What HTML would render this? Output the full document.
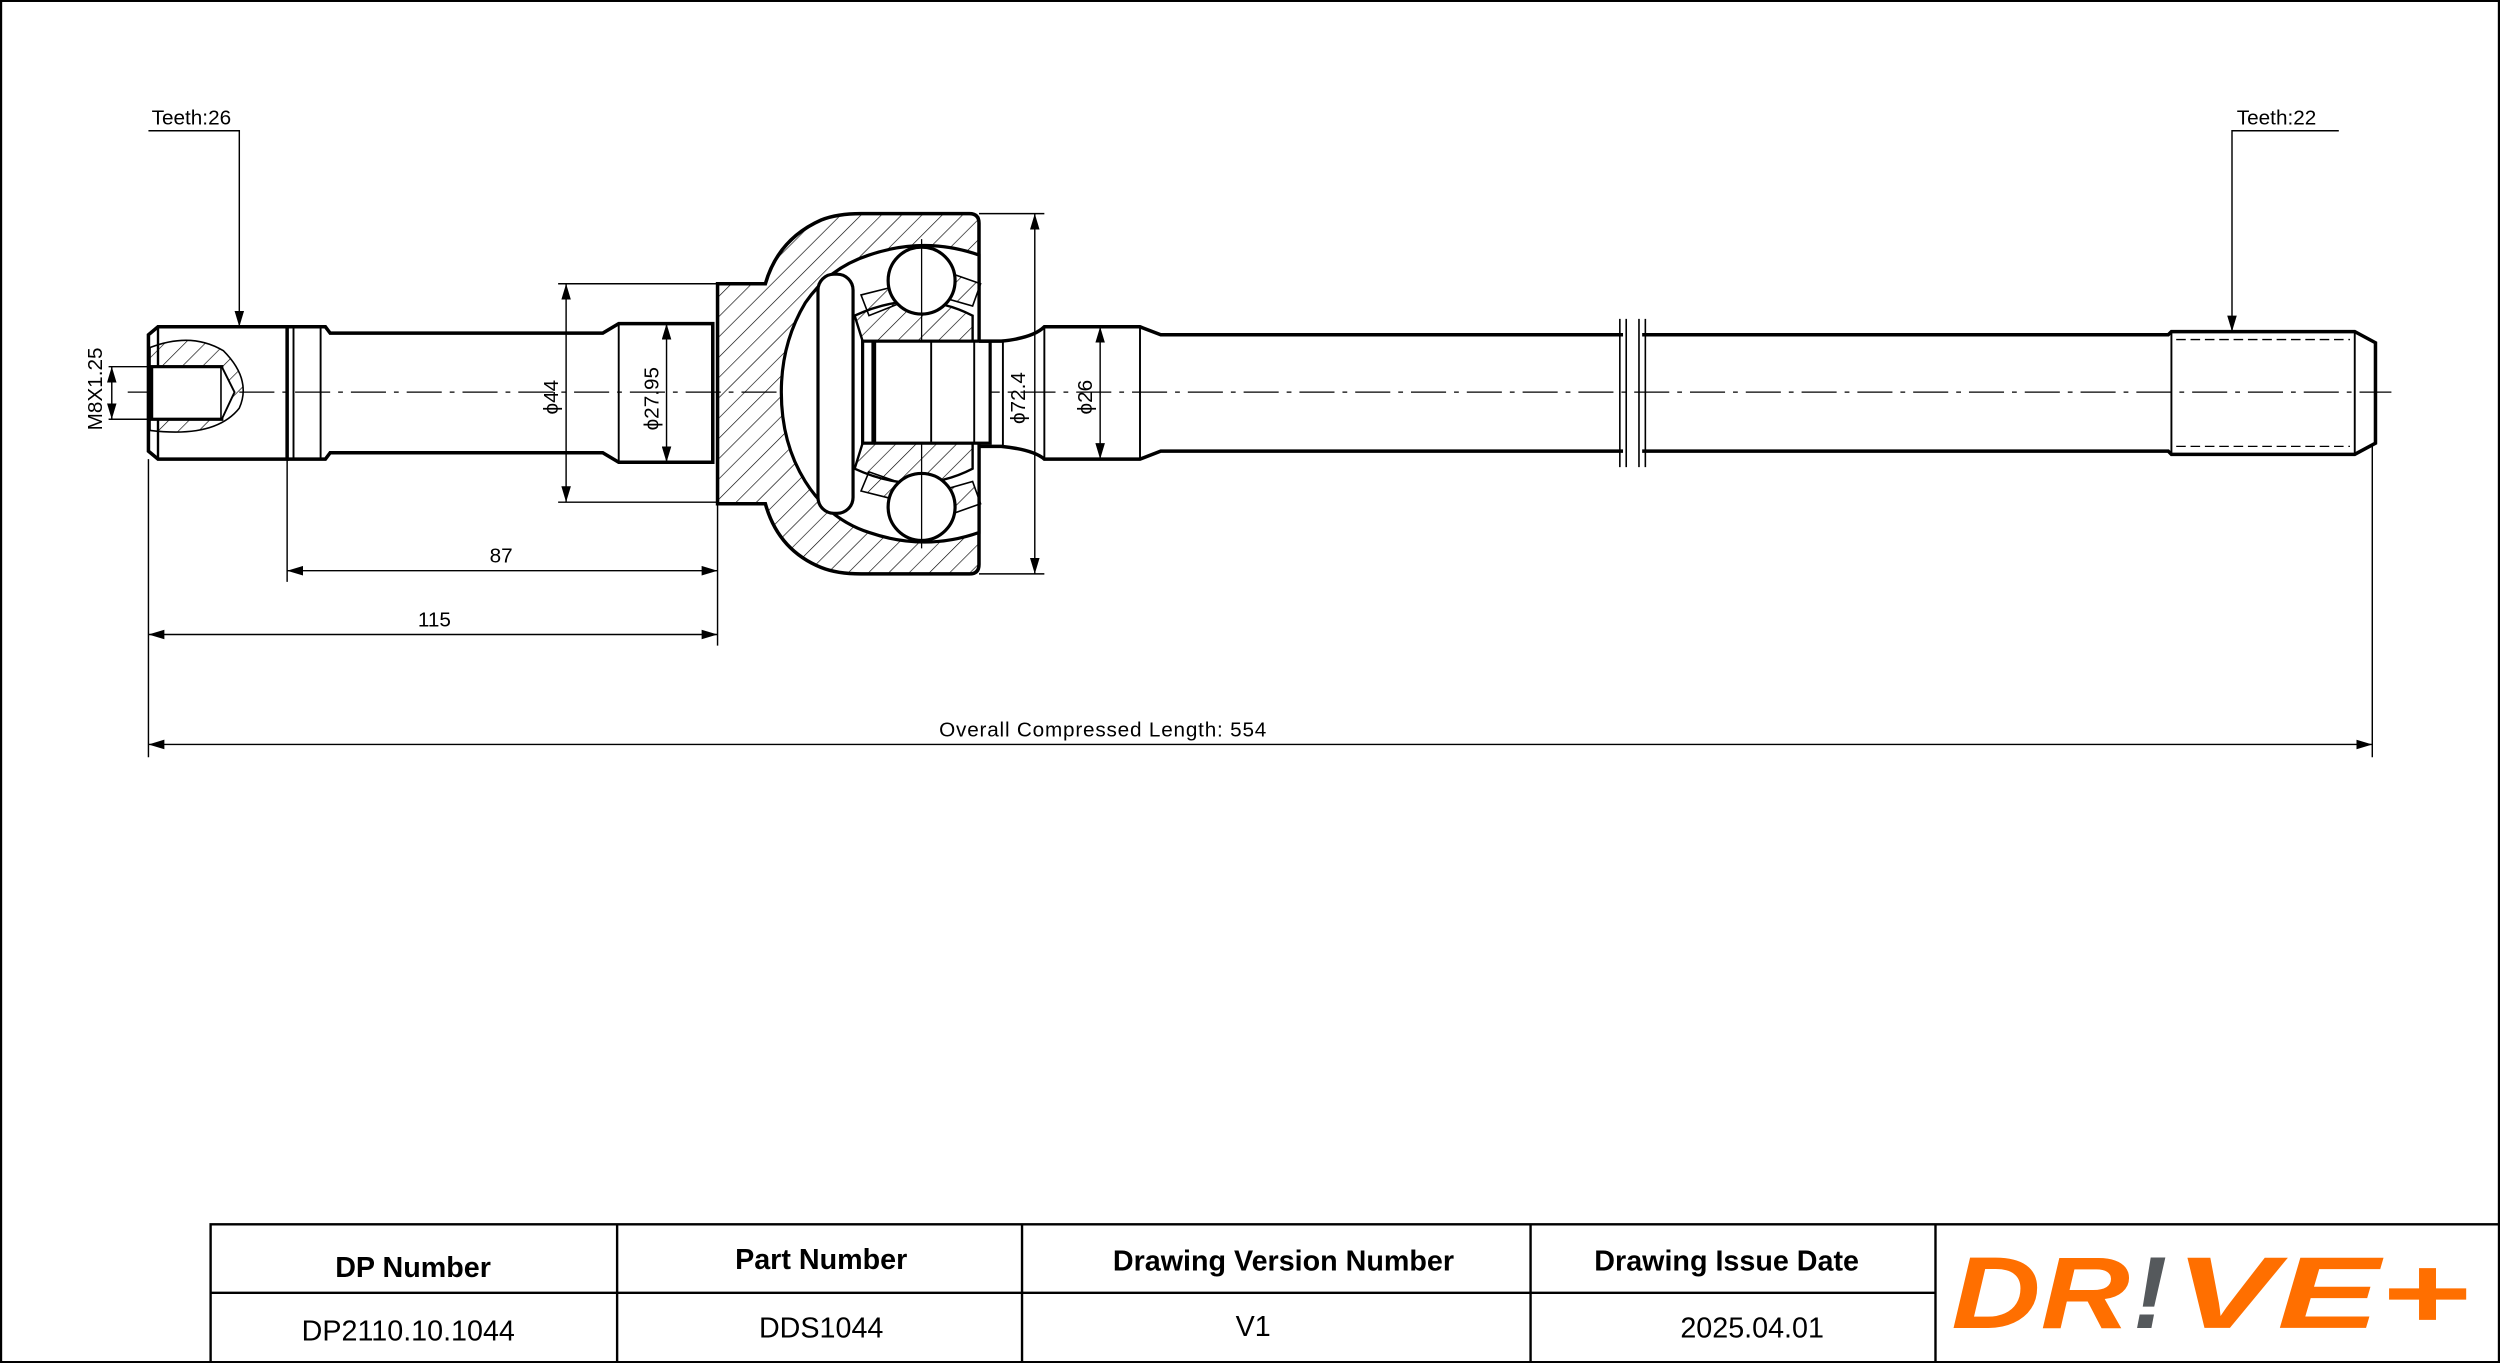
<!DOCTYPE html>
<html><head><meta charset="utf-8"><style>
html,body{margin:0;padding:0;background:#fff}
svg{display:block}
text{font-family:"Liberation Sans",sans-serif}
</style></head><body>
<svg width="2500" height="1363" viewBox="0 0 1568 855" xmlns="http://www.w3.org/2000/svg">
<defs>
<pattern id="h" patternUnits="userSpaceOnUse" width="9" height="9" patternTransform="rotate(45)">
<line x1="0" y1="0" x2="0" y2="9" stroke="#000" stroke-width="0.8"/>
</pattern>
<marker id="a" markerWidth="10" markerHeight="6" refX="10" refY="3" orient="auto-start-reverse" markerUnits="userSpaceOnUse"><path d="M0,0 L10,3 L0,6 Z" fill="#000"/></marker>
</defs>
<rect x="0.5" y="0.5" width="1567" height="854" fill="#fff" stroke="#000" stroke-width="1.5"/>
<g fill="none" stroke="#000" stroke-width="0.8">
<!-- centerline -->
<line x1="80" y1="246" x2="1500" y2="246" stroke-dasharray="22,5,3,5"/>
</g>
<g fill="none" stroke="#000" stroke-width="2.2">
<!-- left stub -->
<path d="M99,205 L180,205 L180,288 L99,288 L93,283 L93,210 Z"/>
<line x1="99" y1="205" x2="99" y2="288" stroke-width="1.5"/>
<path d="M180,205 L204,205 L207,209 L378,209 L388,203 L447,203 L447,290 L388,290 L378,284 L207,284 L204,288 L180,288"/>
<line x1="184" y1="206" x2="184" y2="287" stroke-width="1.2"/>
<line x1="201" y1="206" x2="201" y2="287" stroke-width="1.2"/>
<line x1="388" y1="203" x2="388" y2="290" stroke-width="1.2"/>
</g>
<!-- threaded hole hatch -->
<path d="M94,218 Q120,208 140,220 Q158,238 150,256 Q135,275 94,270 Z" fill="url(#h)" stroke="#000" stroke-width="1"/>
<rect x="95" y="230" width="44" height="33" fill="#fff" stroke="#000" stroke-width="2"/>
<path d="M139,230 L147,246 L139,263" fill="#fff" stroke="#000" stroke-width="1.2"/>
<!-- bell housing -->
<path d="M450,178 L480,178 Q488,150 515,138 Q525,134 540,134 L608,134 Q614,134 614,140 L614,354 Q614,360 608,360 L540,360 Q525,360 515,356 Q488,345 480,316 L450,316 Z" fill="url(#h)" stroke="#000" stroke-width="2.2"/>
<!-- inner cavity -->
<path d="M614,160 Q580,148 545,160 Q520,168 505,190 Q490,215 490,246 Q490,278 505,302 Q520,326 545,334 Q580,346 614,334 Z" fill="#fff" stroke="#000" stroke-width="2"/>
<line x1="450" y1="181" x2="450" y2="313" stroke="#000" stroke-width="1.5"/>
<rect x="513" y="172" width="22" height="150" rx="10" fill="#fff" stroke="#000" stroke-width="2"/>
<!-- cage / inner race -->
<path d="M536,198 Q575,180 610,198 L610,214 L541,214 Z" fill="url(#h)" stroke="#000" stroke-width="1.5"/>
<path d="M536,294 Q575,312 610,294 L610,278 L541,278 Z" fill="url(#h)" stroke="#000" stroke-width="1.5"/>
<path d="M540,185 L560,180 L565,190 L545,198 Z" fill="url(#h)" stroke="#000" stroke-width="1"/>
<path d="M598,172 L615,178 L610,192 L596,188 Z" fill="url(#h)" stroke="#000" stroke-width="1"/>
<path d="M540,308 L560,313 L565,303 L545,296 Z" fill="url(#h)" stroke="#000" stroke-width="1"/>
<path d="M598,322 L615,316 L610,302 L596,306 Z" fill="url(#h)" stroke="#000" stroke-width="1"/>
<circle cx="578" cy="176" r="21" fill="#fff" stroke="#000" stroke-width="2"/>
<circle cx="578" cy="318" r="21" fill="#fff" stroke="#000" stroke-width="2"/>
<line x1="578" y1="150" x2="578" y2="344" stroke="#000" stroke-width="0.8"/>
<!-- stub shaft inside -->
<rect x="541" y="214" width="80" height="64" fill="#fff" stroke="#000" stroke-width="2"/>
<line x1="548" y1="214" x2="548" y2="278" stroke="#000" stroke-width="3"/>
<line x1="584" y1="214" x2="584" y2="278" stroke="#000" stroke-width="1.2"/>
<line x1="611" y1="214" x2="611" y2="278" stroke="#000" stroke-width="1.2"/>
<!-- right shaft -->
<g fill="none" stroke="#000" stroke-width="2.2">
<path d="M614,214 L628,214 Q648,212 655,205 L715,205 L728,210 L1018,210"/>
<path d="M614,280 L628,280 Q648,282 655,288 L715,288 L728,283 L1018,283"/>
<line x1="655" y1="205" x2="655" y2="288" stroke-width="1.2"/>
<line x1="715" y1="205" x2="715" y2="288" stroke-width="1.2"/>
<line x1="629" y1="214" x2="629" y2="280" stroke-width="1.2"/>
<path d="M1030,210 L1360,210 L1362,208 L1477,208 L1490,215 L1490,278 L1477,285 L1362,285 L1360,283 L1030,283"/>
<line x1="1362" y1="208" x2="1362" y2="285" stroke-width="1.2"/>
<line x1="1477" y1="208" x2="1477" y2="285" stroke-width="1.2"/>
<line x1="1365" y1="213" x2="1474" y2="213" stroke-width="0.8" stroke-dasharray="6,3"/>
<line x1="1365" y1="280" x2="1474" y2="280" stroke-width="0.8" stroke-dasharray="6,3"/>
<path d="M1016,200 L1016,293 M1020,200 L1020,293 M1028,200 L1028,293 M1032,200 L1032,293" stroke-width="1"/>
</g>
<!-- dimensions -->
<g fill="none" stroke="#000" stroke-width="0.9">
<line x1="350" y1="178" x2="450" y2="178"/><line x1="350" y1="315" x2="450" y2="315"/>
<line x1="355" y1="178" x2="355" y2="315" marker-start="url(#a)" marker-end="url(#a)"/>
<line x1="418" y1="203" x2="418" y2="290" marker-start="url(#a)" marker-end="url(#a)"/>
<line x1="614" y1="134" x2="655" y2="134"/><line x1="614" y1="360" x2="655" y2="360"/>
<line x1="649" y1="134" x2="649" y2="360" marker-start="url(#a)" marker-end="url(#a)"/>
<line x1="690" y1="205" x2="690" y2="288" marker-start="url(#a)" marker-end="url(#a)"/>
<line x1="180" y1="288" x2="180" y2="365"/><line x1="450" y1="316" x2="450" y2="405"/>
<line x1="93" y1="288" x2="93" y2="475"/><line x1="1488" y1="280" x2="1488" y2="475"/>
<line x1="180" y1="358" x2="450" y2="358" marker-start="url(#a)" marker-end="url(#a)"/>
<line x1="93" y1="398" x2="450" y2="398" marker-start="url(#a)" marker-end="url(#a)"/>
<line x1="93" y1="467" x2="1488" y2="467" marker-start="url(#a)" marker-end="url(#a)"/>
<line x1="68" y1="230" x2="95" y2="230"/><line x1="68" y1="263" x2="95" y2="263"/>
<line x1="70" y1="230" x2="70" y2="263" marker-start="url(#a)" marker-end="url(#a)"/>
<path d="M93,82 L150,82 L150,205" marker-end="url(#a)"/>
<path d="M1467,82 L1400,82 L1400,208" marker-end="url(#a)"/>
</g>
<g font-size="13" fill="#000">
<text x="95" y="78">Teeth:26</text>
<text x="1403" y="78">Teeth:22</text>
<text x="307" y="353">87</text>
<text x="262" y="393">115</text>
<text x="589" y="462" letter-spacing="0.5">Overall  Compressed  Length: 554</text>
<text transform="translate(64,270) rotate(-90)">M8X1.25</text>
<text transform="translate(350,260) rotate(-90)">ϕ44</text>
<text transform="translate(413,270) rotate(-90)">ϕ27.95</text>
<text transform="translate(643,266) rotate(-90)">ϕ72.4</text>
<text transform="translate(685,260) rotate(-90)">ϕ26</text>
</g>
<!-- table -->
<g fill="none" stroke="#000" stroke-width="1.5">
<rect x="132" y="768" width="1436" height="87"/>
<line x1="132" y1="811" x2="1214" y2="811"/>
<line x1="387" y1="768" x2="387" y2="855"/>
<line x1="641" y1="768" x2="641" y2="855"/>
<line x1="960" y1="768" x2="960" y2="855"/>
<line x1="1214" y1="768" x2="1214" y2="855"/>
</g>
<g font-size="18" text-anchor="middle" fill="#000">
<text x="259" y="801" font-weight="bold">DP Number</text>
<text x="515" y="796" font-weight="bold">Part Number</text>
<text x="805" y="797" font-weight="bold">Drawing Version Number</text>
<text x="1083" y="797" font-weight="bold">Drawing Issue Date</text>
<text x="256" y="841">DP2110.10.1044</text>
<text x="515" y="839">DDS1044</text>
<text x="786" y="838">V1</text>
<text x="1099" y="839">2025.04.01</text>
</g>
<!-- logo -->
<g transform="translate(1210,765)">
<text x="14" y="68" font-size="64" font-weight="bold" font-style="italic" fill="#ff6f00" textLength="112" lengthAdjust="spacingAndGlyphs">DR</text>
<text x="128" y="68" font-size="64" font-weight="bold" font-style="italic" fill="#55595c">!</text>
<text x="154" y="68" font-size="64" font-weight="bold" font-style="italic" fill="#ff6f00" textLength="185" lengthAdjust="spacingAndGlyphs">VE+</text>
</g>
</svg>
</body></html>
